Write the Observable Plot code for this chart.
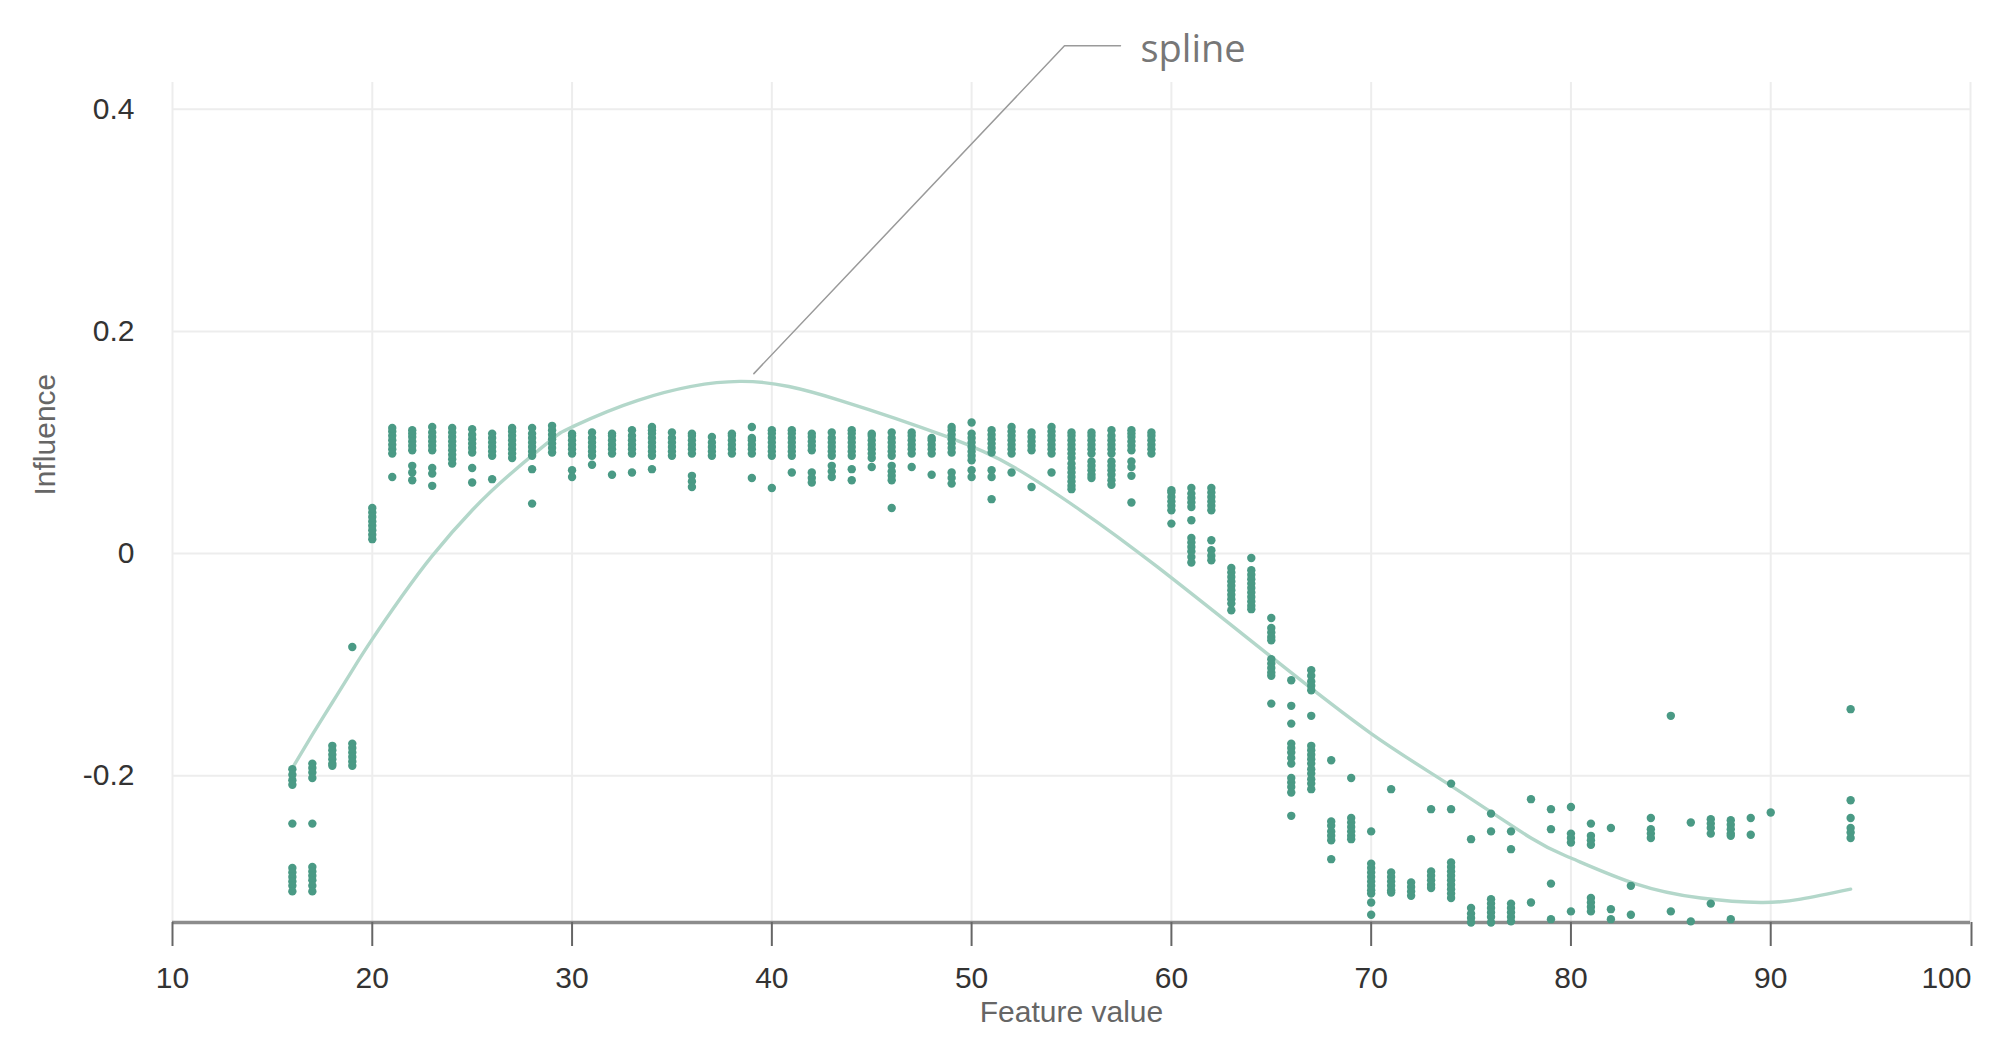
<!DOCTYPE html>
<html>
<head>
<meta charset="utf-8">
<script src="https://cdn.jsdelivr.net/npm/d3@7"></script>
<script src="https://cdn.jsdelivr.net/npm/@observablehq/plot@0.6"></script>
<style>
  html, body { margin: 0; padding: 0; background: #ffffff; }
  #chart { width: 1993px; height: 1063px; }
</style>
</head>
<body>
<div id="chart"></div>
<script>
// ---- data ----
const xTicks = [10, 20, 30, 40, 50, 60, 70, 80, 90, 100];
const yTicks = [-0.2, 0, 0.2, 0.4];
const xDomain = [10, 100];
const yDomain = [-0.332, 0.424];

const columnX = [16,17,18,19,20,21,22,23,24,25,26,27,28,29,30,31,32,33,34,35,36,37,38,39,40,
  41,42,43,44,45,46,47,48,49,50,51,52,53,54,55,56,57,58,59,60,61,62,63,64,65,66,67,68,69,70,
  71,72,73,74,75,76,77,78,79,80,81,82,83,84,85,86,87,88,89,90,94];

const columnInfluence = [
  [-0.194,-0.199,-0.204,-0.208,-0.243,-0.283,-0.287,-0.291,-0.295,-0.299,-0.304], // 16
  [-0.189,-0.193,-0.197,-0.202,-0.243,-0.282,-0.286,-0.290,-0.294,-0.299,-0.304], // 17
  [-0.173,-0.177,-0.181,-0.185,-0.189,-0.191], // 18
  [-0.084,-0.171,-0.175,-0.179,-0.183,-0.187,-0.191], // 19
  [0.013,0.017,0.021,0.025,0.029,0.033,0.037,0.041], // 20
  [0.090,0.094,0.098,0.102,0.106,0.110,0.113,0.069], // 21
  [0.093,0.097,0.101,0.105,0.108,0.111,0.079,0.073,0.066], // 22
  [0.093,0.097,0.101,0.105,0.109,0.114,0.077,0.072,0.061], // 23
  [0.081,0.085,0.089,0.093,0.097,0.101,0.105,0.109,0.113], // 24
  [0.091,0.095,0.099,0.103,0.107,0.112,0.077,0.064], // 25
  [0.088,0.092,0.096,0.100,0.104,0.108,0.067], // 26
  [0.086,0.090,0.094,0.098,0.102,0.106,0.110,0.113], // 27
  [0.088,0.092,0.096,0.100,0.104,0.108,0.113,0.076,0.045], // 28
  [0.091,0.095,0.099,0.103,0.107,0.111,0.115], // 29
  [0.090,0.094,0.098,0.102,0.106,0.108,0.075,0.069], // 30
  [0.088,0.092,0.096,0.100,0.104,0.109,0.080], // 31
  [0.090,0.094,0.098,0.102,0.106,0.108,0.071], // 32
  [0.090,0.094,0.098,0.102,0.106,0.111,0.073], // 33
  [0.088,0.092,0.096,0.100,0.104,0.108,0.111,0.114,0.076], // 34
  [0.088,0.092,0.096,0.100,0.104,0.109], // 35
  [0.090,0.094,0.098,0.102,0.106,0.108,0.070,0.065,0.060], // 36
  [0.088,0.092,0.096,0.100,0.105], // 37
  [0.090,0.094,0.098,0.102,0.106,0.108], // 38
  [0.114,0.090,0.094,0.098,0.102,0.104,0.068], // 39
  [0.088,0.092,0.096,0.100,0.104,0.108,0.111,0.059], // 40
  [0.088,0.092,0.096,0.100,0.104,0.108,0.111,0.073], // 41
  [0.093,0.097,0.101,0.105,0.108,0.073,0.068,0.064], // 42
  [0.088,0.092,0.096,0.100,0.104,0.109,0.079,0.074,0.069], // 43
  [0.088,0.092,0.096,0.100,0.104,0.108,0.111,0.076,0.066], // 44
  [0.086,0.090,0.094,0.098,0.102,0.106,0.108,0.078], // 45
  [0.088,0.092,0.096,0.100,0.104,0.109,0.079,0.074,0.070,0.066,0.041], // 46
  [0.090,0.094,0.098,0.102,0.106,0.109,0.078], // 47
  [0.090,0.094,0.098,0.102,0.104,0.071], // 48
  [0.091,0.095,0.099,0.103,0.107,0.111,0.114,0.073,0.068,0.063], // 49
  [0.118,0.084,0.088,0.092,0.096,0.100,0.104,0.108,0.075,0.069], // 50
  [0.091,0.095,0.099,0.103,0.107,0.111,0.075,0.069,0.049], // 51
  [0.090,0.094,0.098,0.102,0.106,0.110,0.114,0.073], // 52
  [0.093,0.097,0.101,0.105,0.109,0.060], // 53
  [0.090,0.094,0.098,0.102,0.106,0.110,0.114,0.073], // 54
  [0.086,0.090,0.094,0.098,0.102,0.106,0.109,0.081,0.077,0.073,0.069,0.065,0.061,0.058], // 55
  [0.090,0.094,0.098,0.102,0.106,0.109,0.083,0.079,0.075,0.071,0.068], // 56
  [0.090,0.094,0.098,0.102,0.106,0.111,0.083,0.079,0.075,0.071,0.066,0.062], // 57
  [0.093,0.097,0.101,0.105,0.108,0.111,0.083,0.078,0.070,0.046], // 58
  [0.090,0.094,0.098,0.102,0.106,0.109], // 59
  [0.039,0.043,0.047,0.051,0.055,0.057,0.027], // 60
  [0.042,0.046,0.050,0.054,0.059,0.030,0.014,0.010,0.006,0.002,-0.003,-0.008], // 61
  [0.039,0.043,0.047,0.051,0.055,0.059,0.012,0.003,-0.002,-0.006], // 62
  [-0.013,-0.017,-0.021,-0.025,-0.029,-0.033,-0.037,-0.041,-0.045,-0.051], // 63
  [-0.004,-0.015,-0.019,-0.023,-0.027,-0.031,-0.035,-0.039,-0.043,-0.047,-0.050], // 64
  [-0.058,-0.067,-0.071,-0.075,-0.078,-0.095,-0.099,-0.103,-0.107,-0.110,-0.135], // 65
  [-0.114,-0.137,-0.153,-0.171,-0.175,-0.179,-0.184,-0.189,-0.202,-0.206,-0.210,-0.215,-0.236], // 66
  [-0.105,-0.110,-0.115,-0.119,-0.123,-0.146,-0.173,-0.177,-0.181,-0.185,-0.189,-0.194,-0.198,-0.203,-0.207,-0.212], // 67
  [-0.186,-0.241,-0.245,-0.250,-0.254,-0.258,-0.275], // 68
  [-0.202,-0.238,-0.242,-0.246,-0.250,-0.254,-0.257], // 69
  [-0.250,-0.279,-0.283,-0.287,-0.291,-0.295,-0.299,-0.303,-0.306,-0.314,-0.325], // 70
  [-0.212,-0.287,-0.291,-0.295,-0.299,-0.303,-0.305], // 71
  [-0.296,-0.300,-0.304,-0.308], // 72
  [-0.230,-0.286,-0.290,-0.294,-0.298,-0.301], // 73
  [-0.207,-0.230,-0.278,-0.282,-0.286,-0.290,-0.294,-0.298,-0.302,-0.306,-0.310], // 74
  [-0.257,-0.319,-0.324,-0.328,-0.332], // 75
  [-0.234,-0.250,-0.311,-0.315,-0.319,-0.323,-0.327,-0.332], // 76
  [-0.250,-0.266,-0.315,-0.319,-0.323,-0.327,-0.331], // 77
  [-0.221,-0.314], // 78
  [-0.230,-0.248,-0.297,-0.329], // 79
  [-0.228,-0.252,-0.256,-0.260,-0.322], // 80
  [-0.243,-0.254,-0.258,-0.262,-0.310,-0.314,-0.318,-0.322], // 81
  [-0.247,-0.320,-0.329], // 82
  [-0.299,-0.325], // 83
  [-0.238,-0.248,-0.252,-0.256], // 84
  [-0.146,-0.322], // 85
  [-0.242,-0.331], // 86
  [-0.239,-0.243,-0.247,-0.252,-0.315], // 87
  [-0.240,-0.244,-0.248,-0.252,-0.254,-0.329], // 88
  [-0.238,-0.253], // 89
  [-0.233], // 90
  [-0.140,-0.222,-0.238,-0.247,-0.251,-0.256] // 94
];

const splineX = [16, 17, 18, 19, 20, 21.5, 23, 25, 27, 29, 30, 33.3, 38.4, 43.4, 48.8, 52.1, 55.45, 59.3, 65, 70, 74, 78, 80, 83.2, 86.5, 89.5, 91.5, 94];
const splineY = [-0.193, -0.163, -0.134, -0.105, -0.077, -0.038, -0.002, 0.039, 0.073, 0.103, 0.114, 0.138, 0.155, 0.138, 0.105, 0.078, 0.039, -0.012, -0.093, -0.162, -0.209, -0.256, -0.274, -0.297, -0.310, -0.314, -0.311, -0.302];

const annotationText = "spline";
const leaderX = [39.1, 54.65, 57.45];
const leaderY = [0.162, 0.457, 0.457];

// ---- build tables ----
const points = columnX.flatMap((x, i) => columnInfluence[i].map(y => ({x, y})));
const spline = splineX.map((x, i) => ({x, y: splineY[i]}));
const leader = leaderX.map((x, i) => ({x, y: leaderY[i]}));
const fmt = d => String(d);
const lastTick = xTicks[xTicks.length - 1];

const axisStyle = {tickSize: 24, tickPadding: 20, tickFormat: fmt, stroke: "#666", strokeWidth: 2, fill: "#333", label: null};

const chart = Plot.plot({
  width: 1993,
  height: 1063,
  marginLeft: 172,
  marginRight: 23,
  marginTop: 82,
  marginBottom: 141,
  style: {fontFamily: "'Liberation Sans', Arial, sans-serif", fontSize: "30px", background: "#ffffff", color: "#333"},
  x: {domain: xDomain},
  y: {domain: yDomain},
  marks: [
    Plot.gridX(xTicks, {stroke: "#ededed", strokeOpacity: 1, strokeWidth: 2}),
    Plot.gridY(yTicks, {stroke: "#ededed", strokeOpacity: 1, strokeWidth: 2}),
    Plot.ruleY([yDomain[0]], {stroke: "#8c8c8c", strokeWidth: 3.5}),
    Plot.axisX(xTicks.filter(d => d !== lastTick), axisStyle),
    Plot.axisX([lastTick], {...axisStyle, textAnchor: "end", dx: 1}),
    Plot.axisY(yTicks, {tickSize: 0, tickPadding: 38, tickFormat: fmt, fill: "#333", label: null}),
    Plot.text(["Feature value"], {frameAnchor: "bottom", dy: 99, fill: "#666", fontSize: 30}),
    Plot.text(["Influence"], {frameAnchor: "left", dx: -127, dy: -7, rotate: -90, fill: "#666", fontSize: 30}),
    Plot.line(spline, {x: "x", y: "y", curve: "natural", stroke: "#b3d7ca", strokeWidth: 3.4}),
    Plot.dot(points, {x: "x", y: "y", r: 4.2, fill: "#4a9a85", stroke: "none"}),
    Plot.line(leader, {x: "x", y: "y", stroke: "#9a9a9a", strokeWidth: 1.5}),
    Plot.text([leader[leader.length - 1]], {x: "x", y: "y", text: () => annotationText, textAnchor: "start", dx: 20, dy: 4, fill: "#777", fontSize: 38, fontFamily: "'Open Sans', 'Noto Sans', sans-serif"})
  ]
});
document.getElementById("chart").appendChild(chart);
</script>
</body>
</html>
